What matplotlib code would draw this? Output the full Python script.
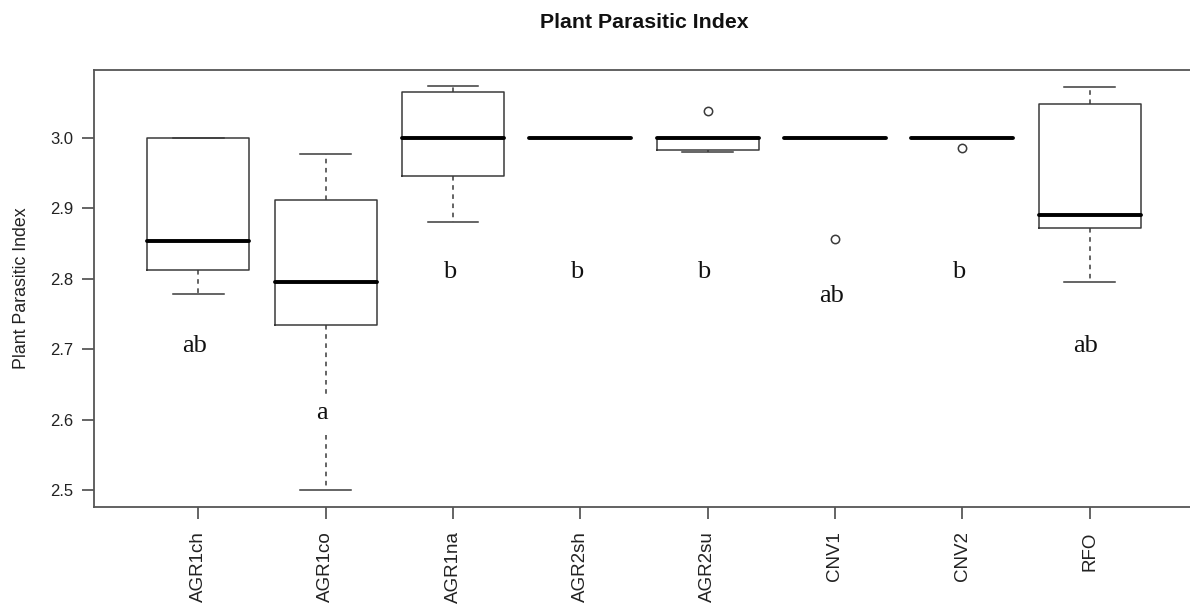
"""
plot.py
Boxplot of the plant parasitic index per site, with significance letters.
"""

import matplotlib
matplotlib.use('Agg')
import matplotlib.pyplot as plt

# -----------------------
# Data
# -----------------------
groups = ['AGR1ch', 'AGR1co', 'AGR1na', 'AGR2sh', 'AGR2su', 'CNV1', 'CNV2', 'RFO']
whisker_low = [2.778, 2.500, 2.880, 3.000, 2.980, 3.000, 3.000, 2.796]
q1 = [2.812, 2.734, 2.946, 3.000, 2.983, 3.000, 3.000, 2.872]
median = [2.854, 2.796, 3.000, 3.000, 3.000, 3.000, 3.000, 2.891]
q3 = [3.000, 2.912, 3.065, 3.000, 3.000, 3.000, 3.000, 3.049]
whisker_high = [3.000, 2.977, 3.074, 3.000, 3.000, 3.000, 3.000, 3.073]
outliers = [[], [], [], [], [3.039], [2.857], [2.986], []]

letters = ['ab', 'a', 'b', 'b', 'b', 'ab', 'b', 'ab']
letter_y = [2.704, 2.609, 2.810, 2.810, 2.810, 2.775, 2.810, 2.704]

LINE = '#3a3a3a'

def build_stats():
    stats = []
    for i, name in enumerate(groups):
        stats.append({'label': name, 'whislo': whisker_low[i], 'q1': q1[i],
                      'med': median[i], 'q3': q3[i], 'whishi': whisker_high[i],
                      'fliers': outliers[i]})
    return stats

def main():
    fig = plt.figure(figsize=(11.9, 6.05), dpi=100)
    ax = fig.add_axes([94 / 1190, 98.3 / 605, 1100 / 1190, 436.7 / 605])

    pos = list(range(1, len(groups) + 1))
    ax.bxp(build_stats(), positions=pos, widths=0.8, patch_artist=False,
           boxprops=dict(color=LINE, linewidth=1.1),
           whiskerprops=dict(color=LINE, linewidth=1.1, linestyle=(0, (3, 3))),
           capprops=dict(color=LINE, linewidth=1.1),
           medianprops=dict(color='black', linewidth=2.8, solid_capstyle='round'),
           flierprops=dict(marker='o', markerfacecolor='none', markeredgecolor=LINE,
                           markersize=6, markeredgewidth=1.1),
           capwidths=0.4)

    # significance letters, white background so they break the whisker like the original
    for x, lab, y in zip(pos, letters, letter_y):
        ax.text(x - 0.03, y, lab, ha='center', va='center', fontsize=19,
                family='Liberation Serif', color='#111111',
                bbox=dict(facecolor='white', edgecolor='none', pad=5))

    ax.set_xlim(0.18, 8.82)
    ax.set_ylim(2.4763, 3.0966)
    ax.set_yticks([2.5, 2.6, 2.7, 2.8, 2.9, 3.0])
    ax.set_yticklabels(['2.5', '2.6', '2.7', '2.8', '2.9', '3.0'])
    ax.set_xticks(pos)
    ax.set_xticklabels(groups, rotation=90)

    for t in ax.get_yticklabels():
        t.set_family('Liberation Sans')
        t.set_fontsize(12)
        t.set_color('#222222')
    for t in ax.get_xticklabels():
        t.set_family('Liberation Sans')
        t.set_fontsize(13.5)
        t.set_color('#222222')
    ax.tick_params(axis='x', direction='out', length=8.6, width=1.1, color=LINE, pad=9)
    ax.tick_params(axis='y', direction='out', length=8.6, width=1.1, color=LINE, pad=6)

    for side in ['left', 'top', 'bottom', 'right']:
        ax.spines[side].set_color('#555555')
        ax.spines[side].set_linewidth(1.3)

    ax.set_ylabel('Plant Parasitic Index', family='Liberation Sans', fontsize=12.8,
                  color='#222222')
    ax.yaxis.set_label_coords(-(94 - 30) / 1100, 0.5)
    # R centres the main title over the plot region, not the figure
    ax.set_title('Plant Parasitic Index', family='Liberation Sans', fontsize=15.3,
                 fontweight='bold', color='#111111', pad=30)

    fig.savefig('out.png', dpi=100)
    plt.close(fig)

if __name__ == '__main__':
    main()
